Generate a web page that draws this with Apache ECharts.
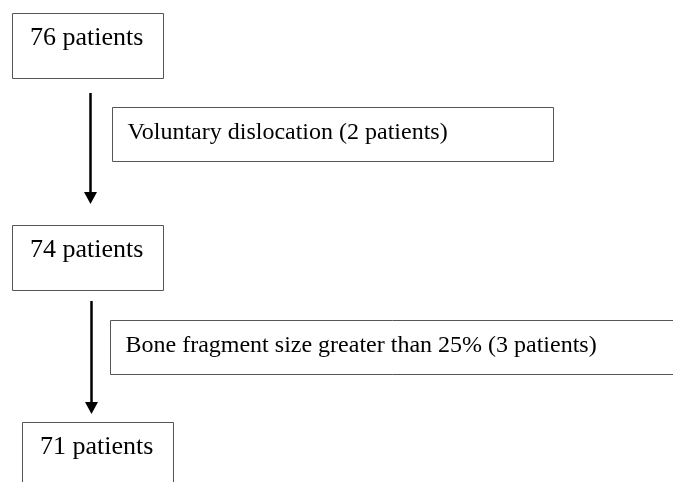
<!DOCTYPE html>
<html>
<head>
<meta charset="utf-8">
<script src="https://cdn.jsdelivr.net/npm/echarts@6/dist/echarts.min.js"></script>
<style>
  html, body { margin: 0; padding: 0; background: #fff; }
  #chart { width: 673px; height: 482px; }
</style>
</head>
<body>
<div id="chart"></div>
<script>
// flow data
const stageCounts = [76, 74, 71];
const exclusionReasons = ["Voluntary dislocation", "Bone fragment size greater than 25%"];
const excludedCounts = [2, 3];

const chart = echarts.init(document.getElementById("chart"));

const serif = "'Liberation Serif', 'Times New Roman', serif";
const borderColor = "#555";

// layout of the stage boxes (left column) and the exclusion boxes
const stageBoxes = [
  { x: 12.5, y: 13.5, w: 151, h: 65 },
  { x: 12.5, y: 225.5, w: 151, h: 65 },
  { x: 22.5, y: 422.5, w: 151, h: 80 },
];
const reasonBoxes = [
  { x: 112.5, y: 107.5, w: 441, h: 54, right: true },
  { x: 110.5, y: 320.5, w: 580, h: 54, right: false },
];
const arrows = [
  { x: 90.5, y1: 93, y2: 204 },
  { x: 91.5, y1: 301, y2: 414 },
];

const elements = [];

stageBoxes.forEach((b, i) => {
  elements.push({
    type: "rect",
    shape: { x: b.x, y: b.y, width: b.w, height: b.h },
    style: { fill: "#fff", stroke: borderColor, lineWidth: 1 },
  });
  elements.push({
    type: "text",
    x: b.x + 17.5,
    y: b.y + 25,
    style: {
      text: stageCounts[i] + " patients",
      font: "26px " + serif,
      fill: "#000",
      verticalAlign: "middle",
    },
  });
});

reasonBoxes.forEach((b, i) => {
  elements.push({
    type: "rect",
    shape: { x: b.x, y: b.y, width: b.w, height: b.h },
    style: { fill: "#fff", stroke: borderColor, lineWidth: 1 },
  });
  elements.push({
    type: "text",
    x: b.x + 15,
    y: b.y + 25,
    style: {
      text: exclusionReasons[i] + " (" + excludedCounts[i] + " patients)",
      font: "24px " + serif,
      fill: "#000",
      verticalAlign: "middle",
    },
  });
});

arrows.forEach(a => {
  elements.push({
    type: "line",
    shape: { x1: a.x, y1: a.y1, x2: a.x, y2: a.y2 - 10 },
    style: { stroke: "#000", lineWidth: 2.5 },
  });
  elements.push({
    type: "polygon",
    shape: { points: [[a.x - 6.5, a.y2 - 12], [a.x + 6.5, a.y2 - 12], [a.x, a.y2]] },
    style: { fill: "#000" },
  });
});

chart.setOption({
  backgroundColor: "#fff",
  animation: false,
  graphic: { elements: elements },
});
</script>
</body>
</html>
